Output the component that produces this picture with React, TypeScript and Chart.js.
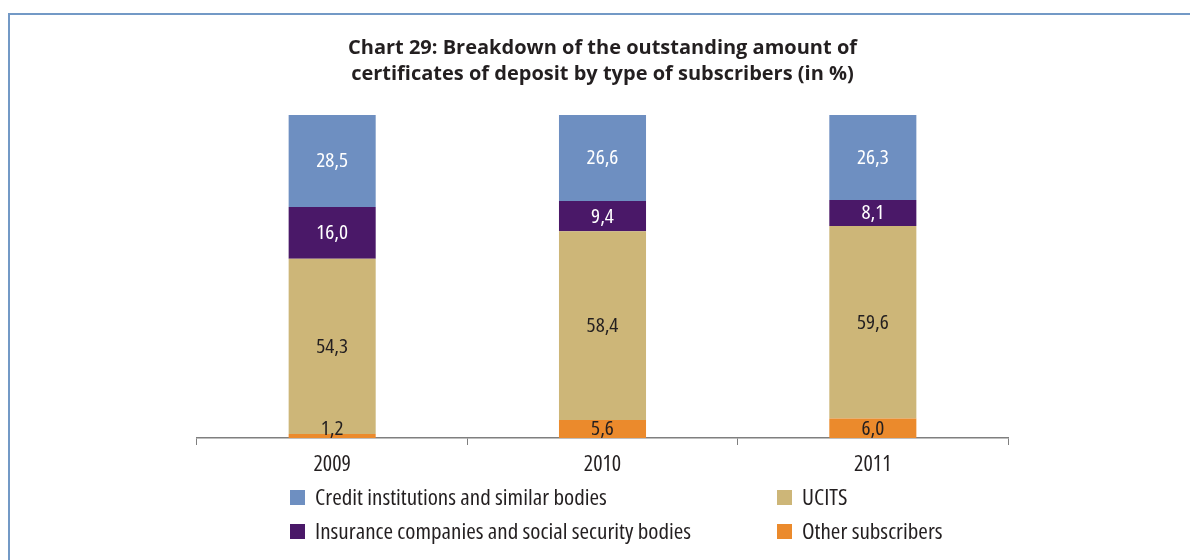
import React, { useEffect, useRef } from 'react';
import { Chart, registerables } from 'chart.js';
Chart.register(...registerables);

const years = ['2009', '2010', '2011'];
const credit = [28.5, 26.6, 26.3];
const insurance = [16.0, 9.4, 8.1];
const ucits = [54.3, 58.4, 59.6];
const other = [1.2, 5.6, 6.0];
const titleLines = [
  'Chart 29: Breakdown of the outstanding amount of',
  'certificates of deposit by type of subscribers (in %)',
];
const seriesNames = [
  'Credit institutions and similar bodies',
  'UCITS',
  'Insurance companies and social security bodies',
  'Other subscribers',
];

const COLORS = {
  credit: '#6E8FC1',
  insurance: '#4A1868',
  ucits: '#CDB678',
  other: '#EB8A2C',
};
const TEXT = '#231F20';
const FONT = "'Open Sans', sans-serif";

function drawScaledText(ctx: CanvasRenderingContext2D, text: string, x: number, y: number, sx: number) {
  ctx.save();
  ctx.translate(x, y);
  ctx.scale(sx, 1);
  ctx.fillText(text, 0, 0);
  ctx.restore();
}

const labelPlugin = {
  id: 'segLabels',
  afterDatasetsDraw(chart: any) {
    const ctx = chart.ctx;
    ctx.save();
    ctx.font = `condensed 19px ${FONT}`;
    ctx.textAlign = 'center';
    ctx.textBaseline = 'middle';
    chart.data.datasets.forEach((ds: any, di: number) => {
      const meta = chart.getDatasetMeta(di);
      meta.data.forEach((bar: any, i: number) => {
        const v = ds.data[i];
        const top = Math.min(bar.y, bar.base);
        const bottom = Math.max(bar.y, bar.base);
        let y = (top + bottom) / 2;
        if (y > bottom - 9 && di === 0) y = bottom - 9;
        ctx.fillStyle = ds.labelColor;
        drawScaledText(ctx, v.toFixed(1).replace('.', ','), bar.x, y + 1, 1.12);
      });
    });
    ctx.restore();
  },
};

const legendPlugin = {
  id: 'gridLegend',
  afterDraw(chart: any) {
    const ctx = chart.ctx;
    const items = [
      { name: seriesNames[0], color: COLORS.credit, col: 0, row: 0 },
      { name: seriesNames[1], color: COLORS.ucits, col: 1, row: 0 },
      { name: seriesNames[2], color: COLORS.insurance, col: 0, row: 1 },
      { name: seriesNames[3], color: COLORS.other, col: 1, row: 1 },
    ];
    const colX = [280, 767];
    const rowY = [483, 517];
    ctx.save();
    ctx.font = `condensed 21px ${FONT}`;
    ctx.textAlign = 'left';
    ctx.textBaseline = 'middle';
    items.forEach((it) => {
      const x = colX[it.col];
      const y = rowY[it.row];
      ctx.fillStyle = it.color;
      ctx.fillRect(x, y - 8, 15, 15);
      ctx.fillStyle = TEXT;
      drawScaledText(ctx, it.name, x + 25, y + 1, 1.1);
    });
    ctx.restore();
  },
};

export default function App() {
  const ref = useRef<HTMLCanvasElement>(null);
  useEffect(() => {
    document.documentElement.style.overflow = 'hidden';
    const chart = new Chart(ref.current as HTMLCanvasElement, {
      type: 'bar',
      data: {
        labels: years,
        datasets: [
          { label: seriesNames[3], data: other, backgroundColor: COLORS.other, labelColor: TEXT } as any,
          { label: seriesNames[1], data: ucits, backgroundColor: COLORS.ucits, labelColor: TEXT } as any,
          { label: seriesNames[2], data: insurance, backgroundColor: COLORS.insurance, labelColor: '#FFFFFF' } as any,
          { label: seriesNames[0], data: credit, backgroundColor: COLORS.credit, labelColor: '#FFFFFF' } as any,
        ],
      },
      options: {
        animation: false,
        responsive: false,
        maintainAspectRatio: false,
        datasets: { bar: { barPercentage: 0.322, categoryPercentage: 1 } },
        layout: { padding: { left: 187, right: 190, top: 0, bottom: 62 } },
        plugins: {
          legend: { display: false },
          tooltip: { enabled: false },
          title: {
            display: true,
            text: titleLines,
            color: TEXT,
            font: { family: FONT, size: 20, weight: 'bold', lineHeight: '26px' },
            padding: { top: 20, bottom: 28 },
          },
        },
        scales: {
          x: {
            stacked: true,
            offset: true,
            grid: { offset: true, drawOnChartArea: false, drawTicks: true, tickLength: 7, color: '#7F7F7F' },
            border: { display: true, color: '#7F7F7F', width: 1.5 },
            ticks: { color: TEXT, font: { family: FONT, size: 22, weight: 'normal condensed' }, padding: 7 },
            afterFit: (s: any) => { s.height = 60; },
          },
          y: {
            stacked: true,
            display: false,
            min: 0,
            max: 100,
          },
        },
      },
      plugins: [labelPlugin, legendPlugin],
    } as any);
    return () => chart.destroy();
  }, []);

  return (
    <div
      style={{
        position: 'relative',
        marginTop: 5,
        width: 'calc(100% + 8px)',
        height: 560,
        borderTop: '2.5px solid #7399C6',
        borderLeft: '2.5px solid #7399C6',
        boxSizing: 'border-box',
      }}
    >
      <canvas
        ref={ref}
        width={1188}
        height={545}
        style={{ position: 'absolute', left: 0, top: 0, width: 1188, height: 545 }}
      />
    </div>
  );
}
